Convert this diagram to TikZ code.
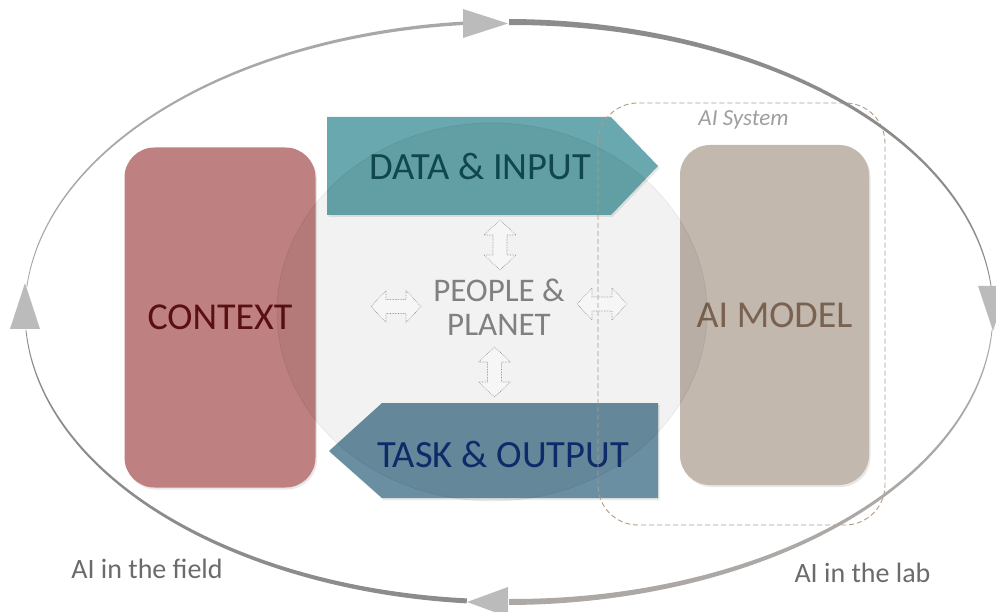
\documentclass[tikz,border=0pt]{standalone}
\usepackage{fontspec}
\setmainfont{Carlito}
\usetikzlibrary{shadows}
\definecolor{ctxfill}{HTML}{BE8080}
\definecolor{ctxtext}{HTML}{5A0F12}
\definecolor{modfill}{HTML}{C2B8AE}
\definecolor{modtext}{HTML}{7A6250}
\definecolor{datfill}{HTML}{68A8AE}
\definecolor{dattext}{HTML}{0F474C}
\definecolor{tskfill}{HTML}{6A8FA3}
\definecolor{tsktext}{HTML}{0E2A68}
\definecolor{sysline}{HTML}{B49A82}
\definecolor{arcdark}{HTML}{8C8C8C}
\definecolor{arclight}{HTML}{ACA8A6}
\definecolor{arcmid}{HTML}{A8A8A8}
\definecolor{headgray}{HTML}{BBBBBB}
\definecolor{dblfill}{HTML}{F6F6F6}
\newcommand\taperarc[5]{%
  \fill[#1] plot[domain=#2:#3,samples=90,variable=\t]
    ({509+(484+0.5*((#4)+((#5)-(#4))*(\t-(#2))/((#3)-(#2))))*cos(\t)},
     {-312+(290+0.5*((#4)+((#5)-(#4))*(\t-(#2))/((#3)-(#2))))*sin(\t)})
  -- plot[domain=#3:#2,samples=90,variable=\t]
    ({509+(484-0.5*((#4)+((#5)-(#4))*(\t-(#2))/((#3)-(#2))))*cos(\t)},
     {-312+(290-0.5*((#4)+((#5)-(#4))*(\t-(#2))/((#3)-(#2))))*sin(\t)})
  -- cycle;}
% double-headed block arrow centred at (#1,#2), rotated by #3
\newcommand\dblarrow[3]{%
  \draw[dblstyle,shift={(#1,#2)},rotate=#3]
    (-25,0) -- (-10,16) -- (-10,7) -- (10,7) -- (10,16) -- (25,0)
    -- (10,-16) -- (10,-7) -- (-10,-7) -- (-10,-16) -- cycle;}
\begin{document}
\begin{tikzpicture}[x=1pt,y=1pt,
  shade/.style={drop shadow={opacity=0.18,shadow xshift=1.5pt,shadow yshift=-2pt}},
  roundbox/.style={shade,rounded corners=30,inner sep=0pt,font=\fontsize{38}{40}\selectfont},
  dblstyle/.style={draw=black!45,densely dotted,line width=0.6pt,fill=dblfill},
  bigtext/.style={font=\fontsize{38.5}{40}\selectfont,anchor=base},
  lbl/.style={font=\fontsize{28}{30}\selectfont,text=black!58,anchor=base},
  head/.style={fill=headgray}]
\useasboundingbox (0,0) rectangle (996,-612);
\fill[white] (0,0) rectangle (996,-612);
% boxes
\node[roundbox,fill=ctxfill,minimum width=191pt,minimum height=340pt,text=ctxtext] (context) at (220,-317.5) {CONTEXT};
\node[roundbox,fill=modfill,minimum width=189pt,minimum height=340pt,text=modtext] (model) at (774.5,-315) {AI MODEL};
\fill[datfill,shade] (327,-117) -- (611,-117) -- (658,-166) -- (611,-215) -- (327,-215) -- cycle;
\fill[tskfill,shade] (658,-403) -- (382,-403) -- (329,-451) -- (382,-498) -- (658,-498) -- cycle;
% people & planet disc
\path[fill=black,fill opacity=0.05,draw=black,draw opacity=0.06,line width=0.8pt] (492,-312) ellipse [x radius=215, y radius=189];
% small double arrows
\dblarrow{500}{-245}{90}
\dblarrow{494.5}{-372}{90}
\dblarrow{396}{-306.5}{0}
\dblarrow{602}{-304}{0}
% texts
\node[bigtext,text=dattext] (datat) at (480,-180) {DATA \& INPUT};
\node[bigtext,text=tsktext] (taskt) at (503,-467) {TASK \& OUTPUT};
\node[font=\fontsize{33}{34}\selectfont,text=black!50,align=center,anchor=base] (ppl) at (499,-335) {PEOPLE \&\\PLANET};
% AI system
\draw[sysline,dash pattern=on 5pt off 3pt,line width=0.9pt,rounded corners=40] (598,-103) rectangle (885,-525);
\node[font=\fontsize{23}{25}\selectfont\itshape,text=black!38,anchor=base] (sys) at (743.5,-126) {AI System};
% outer cycle
\taperarc{arcdark}{90}{5}{6}{0.8}
\taperarc{arclight}{356.5}{270}{0.8}{6}
\taperarc{arcdark}{265}{183.5}{5}{0.8}
\taperarc{arcmid}{175}{95}{0.8}{3.5}
\fill[head] (463,-9) -- (508,-23.5) -- (463,-38) -- cycle;
\fill[head] (978,-286) -- (1008,-286) -- (993,-331) -- cycle;
\fill[head] (508,-587) -- (467,-602) -- (508,-617) -- cycle;
\fill[head] (10,-329) -- (25,-283) -- (40,-329) -- cycle;
\node[lbl] (field) at (147,-578) {AI in the field};
\node[lbl] (lab) at (862.5,-582) {AI in the lab};
\end{tikzpicture}
\end{document}
